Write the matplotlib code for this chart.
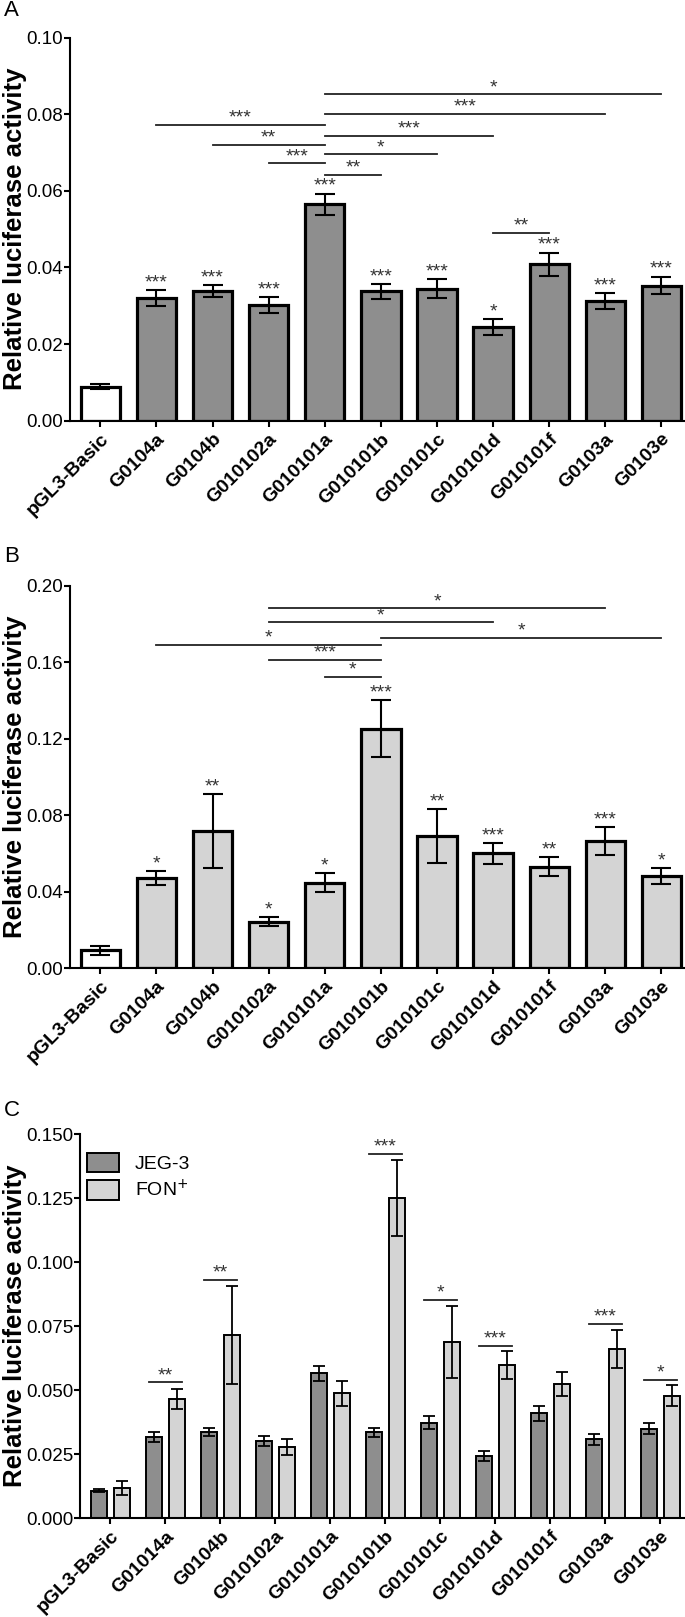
import matplotlib
matplotlib.use("Agg")
import matplotlib.pyplot as plt
import matplotlib.patches as mpatches
import numpy as np

plt.rcParams['font.family'] = ['Liberation Sans', 'DejaVu Sans']

# ---- data ----
labels_ab = ['pGL3-Basic', 'G0104a', 'G0104b', 'G010102a', 'G010101a', 'G010101b',
             'G010101c', 'G010101d', 'G010101f', 'G0103a', 'G0103e']
labels_c = ['pGL3-Basic', 'G01014a', 'G0104b', 'G010102a', 'G010101a', 'G010101b',
            'G010101c', 'G010101d', 'G010101f', 'G0103a', 'G0103e']

jeg_mean = [0.0089, 0.0320, 0.0339, 0.0302, 0.0565, 0.0338, 0.0345, 0.0245, 0.0409, 0.0313, 0.0353]
jeg_err = [0.0006, 0.0020, 0.0015, 0.0020, 0.0028, 0.0019, 0.0024, 0.0020, 0.0030, 0.0021, 0.0023]
jeg_stars = ['', '***', '***', '***', '***', '***', '***', '*', '***', '***', '***']
jeg_brackets = [(1, 4, 0.0772, '***'), (2, 4, 0.0721, '**'), (3, 4, 0.0672, '***'),
                (4, 10, 0.0852, '*'), (4, 9, 0.0802, '***'), (4, 7, 0.0744, '***'),
                (4, 6, 0.0696, '*'), (4, 5, 0.0642, '**'), (7, 8, 0.0490, '**')]

fon_mean = [0.0093, 0.0470, 0.0717, 0.0242, 0.0447, 0.1253, 0.0692, 0.0600, 0.0530, 0.0665, 0.0481]
fon_err = [0.0024, 0.0037, 0.0192, 0.0024, 0.0050, 0.0150, 0.0140, 0.0055, 0.0050, 0.0073, 0.0040]
fon_stars = ['', '*', '**', '*', '*', '***', '**', '***', '**', '***', '*']
fon_brackets = [(3, 9, 0.1884, '*'), (3, 7, 0.1809, '*'), (5, 10, 0.1729, '*'),
                (1, 5, 0.1691, '*'), (3, 5, 0.1613, '***'), (4, 5, 0.1526, '*')]

c_jeg_mean = [0.0106, 0.0317, 0.0337, 0.0300, 0.0565, 0.0334, 0.0372, 0.0242, 0.0409, 0.0308, 0.0349]
c_jeg_err = [0.0006, 0.0020, 0.0016, 0.0019, 0.0028, 0.0017, 0.0025, 0.0019, 0.0030, 0.0021, 0.0022]
c_fon_mean = [0.0117, 0.0465, 0.0715, 0.0278, 0.0487, 0.1250, 0.0688, 0.0597, 0.0524, 0.0660, 0.0478]
c_fon_err = [0.0029, 0.0038, 0.0191, 0.0030, 0.0050, 0.0150, 0.0140, 0.0055, 0.0048, 0.0075, 0.0042]
c_brackets = [(1, 0.0530, '**'), (2, 0.0931, '**'), (5, 0.1423, '***'), (6, 0.0853, '*'),
              (7, 0.0673, '***'), (9, 0.0759, '***'), (10, 0.0539, '*')]

dark = '#8e8e8e'
light = '#d4d4d4'
star_col = '#333333'
STAR_FS = 14

W, H = 685, 1617
fig = plt.figure(figsize=(W / 100, H / 100), dpi=100)


def box(left, top, right, bottom):
    return [left / W, 1 - bottom / H, (right - left) / W, (bottom - top) / H]


def star(ax, x, y, s, dy=1.5):
    ax.annotate(s, (x, y), xytext=(0, dy), textcoords='offset points',
                ha='center', va='baseline', fontsize=STAR_FS, color=star_col)


def style(ax, ymax, step, fmt, left_px, width_px):
    for s in ['top', 'right']:
        ax.spines[s].set_visible(False)
    for s in ['left', 'bottom']:
        ax.spines[s].set_linewidth(1.5)
    ticks = np.arange(0, ymax + step / 2, step)
    ax.set_ylim(0, ymax)
    ax.set_yticks(ticks)
    ax.set_yticklabels([fmt % v for v in ticks], fontsize=13.5)
    ax.tick_params(axis='both', width=1.5, length=4, direction='out')
    ax.tick_params(axis='y', pad=1)
    ax.tick_params(axis='x', pad=3)
    ax.set_ylabel('Relative luciferase activity', fontsize=18.5, fontweight='bold')
    ax.yaxis.set_label_coords((27 - left_px) / width_px, 0.5)


def single_panel(rect_px, means, errs, stars, brackets, color, ymax, step):
    ax = fig.add_axes(box(*rect_px))
    x = np.arange(len(means))
    cols = ['white'] + [color] * (len(means) - 1)
    ax.bar(x, means, width=0.7, color=cols, edgecolor='black', linewidth=2.3, zorder=2)
    ax.errorbar(x, means, yerr=errs, fmt='none', ecolor='black', elinewidth=1.5,
                capsize=7.5, capthick=1.5, zorder=3)
    for xi, m, e, s in zip(x, means, errs, stars):
        if s:
            star(ax, xi, m + e, s, dy=2)
    for i, j, y, s in brackets:
        ax.plot([i, j], [y, y], color='#222222', lw=1.3, zorder=1)
        star(ax, (i + j) / 2, y, s)
    ax.set_xlim(-0.54, 10.42)
    ax.set_xticks(x)
    ax.set_xticklabels(labels_ab, rotation=45, ha='right', rotation_mode='anchor',
                       fontsize=14, fontweight='bold')
    style(ax, ymax, step, '%.2f', rect_px[0], rect_px[2] - rect_px[0])
    return ax


single_panel((70, 37.7, 685, 420.7), jeg_mean, jeg_err, jeg_stars, jeg_brackets,
             dark, 0.10, 0.02)
single_panel((70, 586, 685, 968), fon_mean, fon_err, fon_stars, fon_brackets,
             light, 0.20, 0.04)

# ---- panel C ----
c_px = (80, 1134, 685, 1518)
axc = fig.add_axes(box(*c_px))
xc = np.arange(len(labels_c))
off = 0.205
bw = 0.29
axc.bar(xc - off, c_jeg_mean, width=bw, color=dark, edgecolor='black', linewidth=1.4, zorder=2)
axc.bar(xc + off, c_fon_mean, width=bw, color=light, edgecolor='black', linewidth=1.4, zorder=2)
axc.errorbar(xc - off, c_jeg_mean, yerr=c_jeg_err, fmt='none', ecolor='black',
             elinewidth=1.3, capsize=4.5, capthick=1.3, zorder=3)
axc.errorbar(xc + off, c_fon_mean, yerr=c_fon_err, fmt='none', ecolor='black',
             elinewidth=1.3, capsize=4.5, capthick=1.3, zorder=3)
for g, y, s in c_brackets:
    axc.plot([g - 0.3, g + 0.3], [y, y], color='#222222', lw=1.3)
    star(axc, g, y, s)
axc.set_xlim(-0.55, 10.45)
axc.set_xticks(xc)
axc.set_xticklabels(labels_c, rotation=45, ha='right', rotation_mode='anchor',
                    fontsize=14, fontweight='bold')
style(axc, 0.150, 0.025, '%.3f', c_px[0], c_px[2] - c_px[0])
handles = [mpatches.Patch(facecolor=dark, edgecolor='black', linewidth=1.4, label='JEG-3'),
           mpatches.Patch(facecolor=light, edgecolor='black', linewidth=1.4, label='FON$^{+}$')]
axc.legend(handles=handles, loc='upper left', bbox_to_anchor=(0.012, 0.95), frameon=False,
           fontsize=14, handlelength=1.65, handleheight=1.15, labelspacing=0.3,
           handletextpad=0.8, borderpad=0, borderaxespad=0)

for txt, yy in [('A', 11), ('B', 556), ('C', 1110)]:
    fig.text(4 / W, 1 - yy / H, txt, fontsize=16, va='center', ha='left')

fig.savefig('out.png', dpi=100)
